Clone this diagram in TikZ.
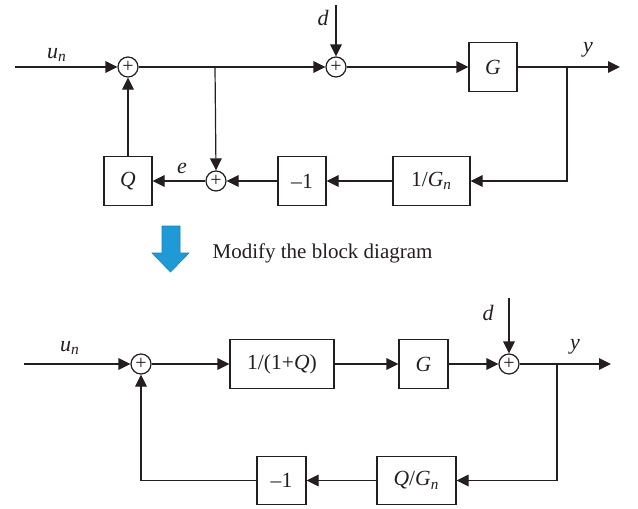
\documentclass[tikz,border=0pt]{standalone}
\usepackage{fontspec}
\setmainfont{Liberation Serif}
\usetikzlibrary{arrows.meta}
\definecolor{ink}{HTML}{231F20}
\definecolor{bluearr}{HTML}{1F9AD6}
\begin{document}
\begin{tikzpicture}[x=0.5pt,y=-0.5pt,
  line width=0.6pt, draw=ink, text=ink,
  blk/.style={draw, minimum height=24.2pt, inner sep=0pt, font=\fontsize{10.8}{12}\selectfont},
  sumn/.style={circle, draw, minimum size=10pt, inner sep=0pt, font=\fontsize{10}{10}\selectfont},
  sig/.style={-{Triangle[length=6pt,width=5.8pt]}},
  lbl/.style={inner sep=0pt, font=\fontsize{11}{12}\selectfont\itshape}]
\useasboundingbox (0,0) rectangle (638,509);
% ---------- top diagram ----------
\coordinate (in1) at (15,67);
\node[sumn] (s1) at (128,67) {+};
\coordinate (bp1) at (215,67);
\node[sumn] (s2) at (336,67) {+};
\coordinate (dtop) at (336,5);
\node[blk, minimum width=24pt] (G) at (493,67) {\textit{G}};
\coordinate (yb) at (567,67);
\coordinate (yend) at (620,67);
\node[blk, minimum width=38.5pt] (ginv) at (431.5,181) {1/\textit{G}\textsubscript{\textit{n}}};
\node[blk, minimum width=24pt] (m1) at (302,181) {–1};
\node[sumn] (s3) at (216,181) {+};
\node[blk, minimum width=24pt] (Q) at (128,181) {\textit{Q}};
\draw[sig] (in1) -- (s1.west);
\draw[sig] (s1.east) -- (s2.west);
\draw[sig] (bp1) -- (s3.north);
\draw[sig] (dtop) -- (s2.north);
\draw[sig] (s2.east) -- (G.west);
\draw[sig] (G.east) -- (yend);
\draw[sig] (yb) |- (ginv.east);
\draw[sig] (ginv.west) -- (m1.east);
\draw[sig] (m1.west) -- (s3.east);
\draw[sig] (s3.west) -- (Q.east);
\draw[sig] (Q.north) -- (s1.south);
\node[lbl] (lun1) at (57,55) {u\textsubscript{n}};
\node[lbl] (ld1) at (323,18) {d};
\node[lbl] (ly1) at (588,50) {y};
\node[lbl] (le1) at (182,168) {e};
% ---------- blue arrow and caption ----------
\filldraw[fill=bluearr, draw=bluearr!85!black, line width=0.3pt]
  (162,226) -- (180,226) -- (180,253) -- (189,253) -- (170.5,272) -- (152,253) -- (162,253) -- cycle;
\node[anchor=west, inner sep=0pt, font=\fontsize{10.5}{12}\selectfont] (cap) at (212,253) {Modify the block diagram};
% ---------- bottom diagram ----------
\coordinate (in2) at (24,364);
\node[sumn] (t1) at (141,364) {+};
\node[blk, minimum width=52pt] (B1) at (282,364) {1/(1+\textit{Q})};
\node[blk, minimum width=24.5pt] (G2) at (423.5,364) {\textit{G}};
\node[sumn] (t2) at (509,364) {+};
\coordinate (dtop2) at (509,298);
\coordinate (yb2) at (557,364);
\coordinate (yend2) at (611,364);
\node[blk, minimum width=39.5pt] (QG) at (416.5,480.5) {\textit{Q}/\textit{G}\textsubscript{\textit{n}}};
\node[blk, minimum width=24.5pt] (m2) at (281.5,480.5) {–1};
\draw[sig] (in2) -- (t1.west);
\draw[sig] (t1.east) -- (B1.west);
\draw[sig] (B1.east) -- (G2.west);
\draw[sig] (G2.east) -- (t2.west);
\draw[sig] (dtop2) -- (t2.north);
\draw[sig] (t2.east) -- (yend2);
\draw[sig] (yb2) |- (QG.east);
\draw[sig] (QG.west) -- (m2.east);
\draw[sig] (m2.west) -| (t1.south);
\node[lbl] (lun2) at (70,348) {u\textsubscript{n}};
\node[lbl] (ld2) at (488,313) {d};
\node[lbl] (ly2) at (575,347) {y};
\end{tikzpicture}
\end{document}
